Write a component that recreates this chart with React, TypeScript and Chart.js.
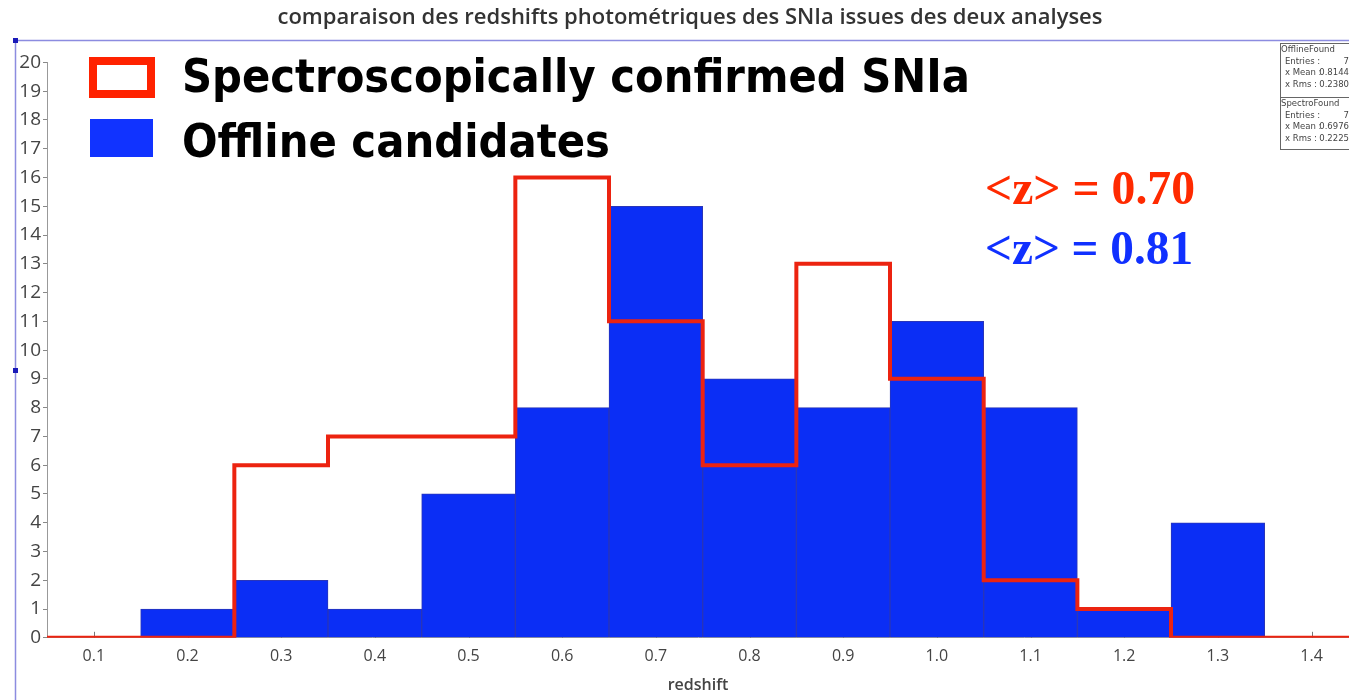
import React, { useEffect, useRef } from "react";
import { Chart, registerables } from "chart.js";

Chart.register(...registerables);

// ---- data ----
const binCenters = [0.1, 0.2, 0.3, 0.4, 0.5, 0.6, 0.7, 0.8, 0.9, 1.0, 1.1, 1.2, 1.3, 1.4];
const offlineCounts = [0, 1, 2, 1, 5, 8, 15, 9, 8, 11, 8, 1, 4, 0];
const spectroCounts = [0, 0, 6, 7, 7, 16, 11, 6, 13, 9, 2, 1, 0, 0];
const binWidth = 0.1;
const xTickValues = [0.1, 0.2, 0.3, 0.4, 0.5, 0.6, 0.7, 0.8, 0.9, 1.0, 1.1, 1.2, 1.3, 1.4];
const xRange = [0.05, 1.44];
const yRange = [0, 20];

const titleText = "comparaison des redshifts photométriques des SNIa issues des deux analyses";
const xAxisTitle = "redshift";
const legendLabels = ["Spectroscopically confirmed SNIa", "Offline candidates"];
const meanLabels = ["<z> = 0.70", "<z> = 0.81"];
const statsOffline = ["OfflineFound", "Entries :", "7", "x Mean :", "0.8144", "x Rms :", "0.2380"];
const statsSpectro = ["SpectroFound", "Entries :", "7", "x Mean :", "0.6976", "x Rms :", "0.2225"];

const RED = "#ec2310";
const BLUE = "#0b2ef5";

function drawFitted(ctx: CanvasRenderingContext2D, text: string, x: number, baseline: number, width: number, font: string, color: string) {
  ctx.save();
  ctx.font = font;
  ctx.fillStyle = color;
  ctx.textAlign = "left";
  ctx.textBaseline = "alphabetic";
  const w = ctx.measureText(text).width;
  ctx.translate(x, baseline);
  ctx.scale(width / w, 1);
  ctx.fillText(text, 0, 0);
  ctx.restore();
}

function drawStatsBox(ctx: CanvasRenderingContext2D, lines: string[], x: number, y: number, h: number) {
  ctx.save();
  ctx.strokeStyle = "#666";
  ctx.lineWidth = 1;
  ctx.strokeRect(x + 0.5, y + 0.5, 100, h);
  ctx.fillStyle = "#444";
  ctx.font = "8.5px 'DejaVu Sans'";
  ctx.textBaseline = "middle";
  ctx.textAlign = "left";
  ctx.fillText(lines[0], x + 1, y + 7);
  const rowsY = [y + 19, y + 30, y + 42];
  for (let i = 0; i < 3; i++) {
    ctx.textAlign = "left";
    ctx.fillText(lines[1 + i * 2], x + 5, rowsY[i]);
    ctx.textAlign = "right";
    ctx.fillText(lines[2 + i * 2], 1349, rowsY[i]);
  }
  ctx.restore();
}

const decorPlugin = {
  id: "decor",
  afterLayout(chart: any) {
    const tb = chart.titleBlock;
    if (tb) {
      tb.left += 6;
      tb.right += 6;
    }
  },
  beforeDatasetsDraw(chart: any) {
    const ctx: CanvasRenderingContext2D = chart.ctx;
    const xs = chart.scales.x;
    const bottom = chart.chartArea.bottom;
    ctx.save();
    ctx.strokeStyle = "#777";
    ctx.lineWidth = 1;
    xTickValues.forEach((v) => {
      const px = Math.round(xs.getPixelForValue(v)) + 0.5;
      ctx.beginPath();
      ctx.moveTo(px, bottom);
      ctx.lineTo(px, bottom - 6);
      ctx.stroke();
    });
    ctx.restore();
  },
  afterDraw(chart: any) {
    const ctx: CanvasRenderingContext2D = chart.ctx;
    ctx.save();
    // frame
    ctx.strokeStyle = "#8c8ce0";
    ctx.lineWidth = 1.5;
    ctx.beginPath();
    ctx.moveTo(15.5, 700);
    ctx.lineTo(15.5, 40.5);
    ctx.lineTo(1349, 40.5);
    ctx.stroke();
    ctx.fillStyle = "#1a1ab8";
    ctx.fillRect(13, 38, 5, 5);
    ctx.fillRect(13, 368, 5, 5);

    // legend
    ctx.fillStyle = "#ff2200";
    ctx.fillRect(89, 57, 66, 41);
    ctx.fillStyle = "#ffffff";
    ctx.fillRect(97, 65, 50, 25);
    ctx.fillStyle = "#1133ff";
    ctx.fillRect(90, 119, 63, 38);
    const legendFont = "bold 46px 'DejaVu Sans'";
    drawFitted(ctx, legendLabels[0], 182, 92, 788, legendFont, "#000");
    drawFitted(ctx, legendLabels[1], 182, 157, 428, legendFont, "#000");

    // means
    const meanFont = "bold 48px 'Liberation Serif'";
    drawFitted(ctx, meanLabels[0], 985, 204, 210, meanFont, "#ff2a00");
    drawFitted(ctx, meanLabels[1], 985, 264, 208, meanFont, "#1030ff");

    // stats boxes
    drawStatsBox(ctx, statsOffline, 1280, 43, 54);
    drawStatsBox(ctx, statsSpectro, 1280, 97, 52);
    ctx.restore();
  },
};

export default function App() {
  const canvasRef = useRef<HTMLCanvasElement | null>(null);

  useEffect(() => {
    const canvas = canvasRef.current;
    if (!canvas) return;

    const barData = binCenters
      .map((c, i) => ({ x: c, y: offlineCounts[i] }))
      .filter((p) => p.y > 0);
    const stepData = binCenters.map((c, i) => ({ x: c - binWidth / 2, y: spectroCounts[i] }));
    stepData.push({
      x: binCenters[binCenters.length - 1] + binWidth / 2,
      y: spectroCounts[spectroCounts.length - 1],
    });

    const font = "'Open Sans', 'DejaVu Sans', sans-serif";

    const chart = new Chart(canvas, {
      type: "bar",
      data: {
        datasets: [
          {
            type: "line",
            label: legendLabels[0],
            data: stepData,
            stepped: "before",
            borderColor: RED,
            borderWidth: 4,
            pointRadius: 0,
            fill: false,
            tension: 0,
            borderJoinStyle: "miter",
            borderCapStyle: "butt",
            order: 0,
          } as any,
          {
            type: "bar",
            label: legendLabels[1],
            data: barData,
            backgroundColor: BLUE,
            borderColor: "#2a36b8",
            borderWidth: 1,
            categoryPercentage: 1,
            barPercentage: 1,
            grouped: false,
            order: 1,
          } as any,
        ],
      },
      options: {
        animation: false,
        responsive: false,
        maintainAspectRatio: false,
        layout: { padding: { left: 19, right: 0, top: 0, bottom: 5 } },
        plugins: {
          legend: { display: false },
          tooltip: { enabled: false },
          title: {
            display: true,
            text: titleText,
            color: "#333",
            font: { family: font, size: 22, weight: "600" },
            padding: { top: 5, bottom: 31 },
          },
        },
        scales: {
          x: {
            type: "linear",
            min: xRange[0],
            max: xRange[1],
            offset: false,
            grid: { display: true, drawOnChartArea: false, drawTicks: false, offset: false },
            border: { display: true, color: "#999", width: 1 },
            afterBuildTicks: (scale: any) => {
              scale.ticks = xTickValues.map((v) => ({ value: v }));
            },
            ticks: {
              color: "#444",
              font: { family: font, size: 16, lineHeight: 1 },
              padding: 11,
              autoSkip: false,
              maxRotation: 0,
              callback: (v: any) => Number(v).toFixed(1),
            },
            title: {
              display: true,
              text: xAxisTitle,
              color: "#444",
              font: { family: font, size: 16, weight: "600" },
              padding: { top: 0, bottom: 0 },
            },
          },
          y: {
            min: yRange[0],
            max: yRange[1],
            afterFit: (scale: any) => {
              scale.width = 28;
            },
            grid: { display: true, drawOnChartArea: false, drawTicks: true, tickLength: 4, color: "#888" },
            border: { display: true, color: "#999", width: 1 },
            ticks: {
              stepSize: 1,
              color: "#444",
              font: { family: font, size: 19 },
              padding: 2,
              autoSkip: false,
            },
          },
        },
      } as any,
      plugins: [decorPlugin],
    });

    return () => chart.destroy();
  }, []);

  return (
    <div style={{ position: "absolute", left: 0, top: 0, width: 1349, height: 700, background: "#fff" }}>
      <canvas ref={canvasRef} width={1349} height={700} style={{ display: "block" }} />
    </div>
  );
}
